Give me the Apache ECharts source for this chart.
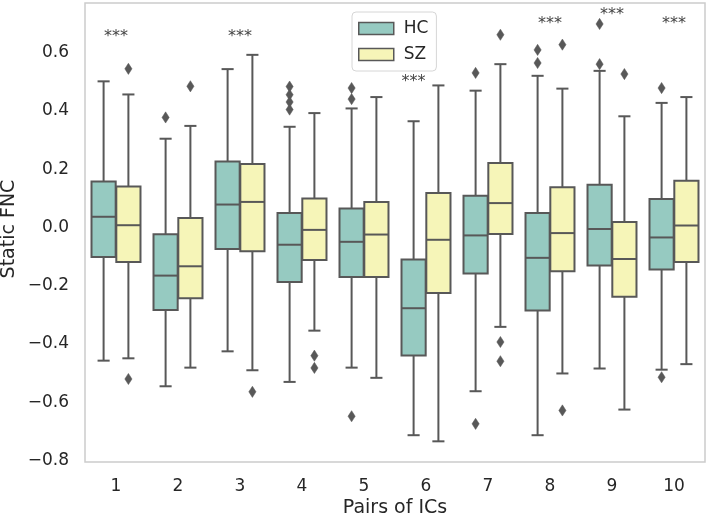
<!DOCTYPE html>
<html>
<head>
<meta charset="utf-8">
<script src="https://cdn.jsdelivr.net/npm/echarts@6/dist/echarts.min.js"></script>
<style>html,body{margin:0;padding:0;background:#fff;}#c{width:709px;height:519px;}</style>
</head>
<body>
<div id="c"></div>
<script>
const categories = ['1','2','3','4','5','6','7','8','9','10'];
const yTicks = [-0.8,-0.6,-0.4,-0.2,0.0,0.2,0.4,0.6];

const hcLow  = [-0.457,-0.545,-0.425,-0.530,-0.481,-0.713,-0.562,-0.713,-0.484,-0.488];
const hcQ1   = [-0.101,-0.283,-0.074,-0.187,-0.170,-0.439,-0.158,-0.285,-0.130,-0.144];
const hcMed  = [ 0.037,-0.165, 0.079,-0.059,-0.049,-0.277,-0.027,-0.104,-0.005,-0.034];
const hcQ3   = [ 0.158,-0.023, 0.227, 0.050, 0.065,-0.110, 0.109, 0.050, 0.147, 0.098];
const hcHigh = [ 0.502, 0.305, 0.544, 0.346, 0.409, 0.365, 0.470, 0.521, 0.538, 0.428];

const szLow  = [-0.449,-0.481,-0.490,-0.354,-0.516,-0.734,-0.341,-0.501,-0.625,-0.469];
const szQ1   = [-0.118,-0.243,-0.081,-0.111,-0.170,-0.225,-0.022,-0.150,-0.238,-0.118];
const szMed  = [ 0.008,-0.133, 0.088,-0.008,-0.024,-0.042, 0.084,-0.019,-0.108, 0.007];
const szQ3   = [ 0.141, 0.033, 0.218, 0.100, 0.088, 0.119, 0.222, 0.138, 0.019, 0.161];
const szHigh = [ 0.457, 0.349, 0.593, 0.393, 0.448, 0.488, 0.561, 0.477, 0.382, 0.448];

// outliers: [category index, value]
const hcOutliers = [[1,0.378],[3,0.484],[3,0.456],[3,0.431],[3,0.405],[4,0.479],[4,0.441],[4,-0.648],
  [6,0.531],[6,-0.674],[7,0.610],[7,0.565],[8,0.699],[8,0.561],[9,0.479],[9,-0.514]];
const szOutliers = [[0,0.545],[0,-0.520],[1,0.485],[2,-0.564],[3,-0.440],[3,-0.482],
  [6,0.662],[6,-0.393],[6,-0.459],[7,0.628],[7,-0.628],[8,0.527]];

// significance markers: category index, y value, side (-1 HC, 0 centre)
const sigCats = [0,2,5,7,8,9];
const sigY    = [0.664,0.664,0.51,0.710,0.739,0.710];
const sigSide = [0,0,-1,0,0,0];

const HC_COLOR = '#96cac1';
const SZ_COLOR = '#f6f5b8';
const EDGE = '#585858';
const FONT = 'DejaVu Sans';
const TXT = '#262626';

function boxData(low,q1,med,q3,high){
  return categories.map((c,i)=>[i,low[i],q1[i],med[i],q3[i],high[i]]);
}
function boxRenderer(side){
  return function(params, api){
    const ci = api.value(0);
    const band = api.size([1,0])[0];
    const cx = api.coord([ci,0])[0] + side*band*0.2;
    const w = band*0.39;
    const yl = api.coord([ci,api.value(1)])[1];
    const y1 = api.coord([ci,api.value(2)])[1];
    const ym = api.coord([ci,api.value(3)])[1];
    const y3 = api.coord([ci,api.value(4)])[1];
    const yh = api.coord([ci,api.value(5)])[1];
    const ls = {stroke:EDGE, lineWidth:2};
    return {type:'group', children:[
      {type:'line', shape:{x1:cx,y1:y3,x2:cx,y2:yh}, style:ls},
      {type:'line', shape:{x1:cx,y1:y1,x2:cx,y2:yl}, style:ls},
      {type:'line', shape:{x1:cx-w/4,y1:yh,x2:cx+w/4,y2:yh}, style:ls},
      {type:'line', shape:{x1:cx-w/4,y1:yl,x2:cx+w/4,y2:yl}, style:ls},
      {type:'rect', shape:{x:cx-w/2,y:y3,width:w,height:y1-y3}, style:{fill:api.visual('color'),stroke:EDGE,lineWidth:2}},
      {type:'line', shape:{x1:cx-w/2,y1:ym,x2:cx+w/2,y2:ym}, style:ls}
    ]};
  };
}
function outlierRenderer(side){
  return function(params, api){
    const ci = api.value(0);
    const band = api.size([1,0])[0];
    const p = api.coord([ci, api.value(1)]);
    const cx = p[0] + side*band*0.2, cy = p[1];
    const hw = 3.6, hh = 5.6;
    return {type:'polygon', shape:{points:[[cx,cy-hh],[cx+hw,cy],[cx,cy+hh],[cx-hw,cy]]},
      style:{fill:EDGE, stroke:EDGE, lineWidth:0.5}};
  };
}
function sigRenderer(params, api){
  const ci = api.value(0);
  const band = api.size([1,0])[0];
  const p = api.coord([ci, api.value(1)]);
  const side = api.value(2);
  return {type:'text', x:p[0] + side*band*0.2, y:p[1] + 3,
    style:{text:'***', fontFamily:FONT, fontSize:16, fill:'#444444', align:'center', verticalAlign:'middle'}};
}

const chart = echarts.init(document.getElementById('c'), null, {renderer:'canvas'});
chart.setOption({
  animation:false,
  backgroundColor:'#ffffff',
  grid:{left:85, right:4, top:3, bottom:57, outerBoundsMode:'none', containLabel:false,
        show:true, borderColor:'#cccccc', borderWidth:1.5, backgroundColor:'#ffffff'},
  graphic:[
    {type:'text', x:9, y:229, rotation:Math.PI/2,
     style:{text:'Static FNC', fontFamily:FONT, fontSize:19, fill:TXT, align:'center', verticalAlign:'middle'}}
  ],
  legend:{
    orient:'vertical', left:352, top:12,
    padding:[8,8,8,6], itemGap:9, itemWidth:35, itemHeight:12,
    borderColor:'#d6d6d6', borderWidth:1, borderRadius:4,
    textStyle:{fontFamily:FONT, fontSize:17, color:TXT, padding:[0,0,0,5]},
    data:[
      {name:'HC', icon:'rect', itemStyle:{color:HC_COLOR, borderColor:EDGE, borderWidth:1.5}},
      {name:'SZ', icon:'rect', itemStyle:{color:SZ_COLOR, borderColor:EDGE, borderWidth:1.5}}
    ]
  },
  xAxis:{
    type:'category', data:categories, boundaryGap:true,
    name:'Pairs of ICs', nameLocation:'middle', nameGap:37, nameMoveOverlap:false,
    nameTextStyle:{fontFamily:FONT, fontSize:19, color:TXT},
    axisLine:{show:false}, axisTick:{show:false}, splitLine:{show:false},
    axisLabel:{fontFamily:FONT, fontSize:17, color:TXT, margin:16}
  },
  yAxis:{
    type:'value', min:-0.805, max:0.771,
    axisLine:{show:false}, axisTick:{show:false}, splitLine:{show:false},
    axisLabel:{fontFamily:FONT, fontSize:17, color:TXT, margin:16, customValues:yTicks,
      formatter:function(v){ return (v < 0 ? '\u2212' : '') + Math.abs(v).toFixed(1); }}
  },
  series:[
    {name:'HC', type:'custom', renderItem:boxRenderer(-1), itemStyle:{color:HC_COLOR},
     encode:{x:0, y:[1,2,3,4,5]}, data:boxData(hcLow,hcQ1,hcMed,hcQ3,hcHigh), z:2},
    {name:'SZ', type:'custom', renderItem:boxRenderer(1), itemStyle:{color:SZ_COLOR},
     encode:{x:0, y:[1,2,3,4,5]}, data:boxData(szLow,szQ1,szMed,szQ3,szHigh), z:2},
    {name:'HC outliers', type:'custom', renderItem:outlierRenderer(-1), encode:{x:0,y:1}, data:hcOutliers, z:3},
    {name:'SZ outliers', type:'custom', renderItem:outlierRenderer(1), encode:{x:0,y:1}, data:szOutliers, z:3},
    {name:'sig', type:'custom', renderItem:sigRenderer, encode:{x:0,y:1},
     data:sigCats.map((c,i)=>[c, sigY[i], sigSide[i]]), z:4}
  ]
});
</script>
</body>
</html>
